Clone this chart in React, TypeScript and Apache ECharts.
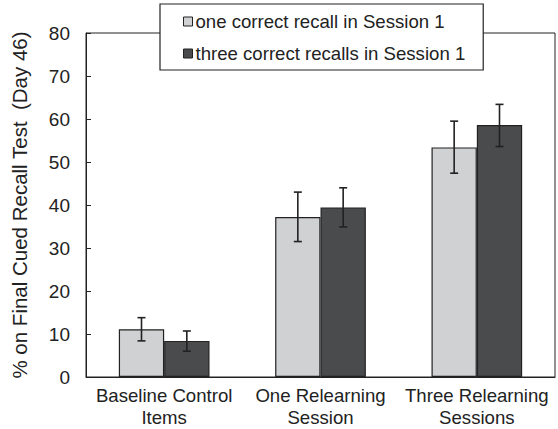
import React, { useEffect, useRef } from "react";
import * as echarts from "echarts";

const categories = ["Baseline Control\nItems", "One Relearning\nSession", "Three Relearning\nSessions"];
const seriesNames = ["one correct recall in Session 1", "three correct recalls in Session 1"];
const oneRecall = [11.1, 37.2, 53.4];
const threeRecalls = [8.4, 39.4, 58.6];
const oneRecallLow = [8.4, 31.5, 47.4];
const oneRecallHigh = [13.8, 43.0, 59.5];
const threeRecallsLow = [6.0, 34.9, 53.6];
const threeRecallsHigh = [10.7, 44.0, 63.4];
const yTicks = { min: 0, max: 80, interval: 10 };

const FONT = "'Liberation Sans', Arial, sans-serif";
const LIGHT = "#d0d1d3";
const DARK = "#4a4b4d";
const INK = "#222222";
const CATEGORY_GAP = 0.42;

// Error bar for one series; side = -1 for the left bar of a group, +1 for the right.
function errorSeries(low: number[], high: number[], side: number) {
  return {
    type: "custom",
    silent: true,
    z: 10,
    data: low.map((l, i) => [i, l, high[i]]),
    renderItem: (params: any, api: any) => {
      const band = api.size([1, 0])[0];
      const barW = (band * (1 - CATEGORY_GAP)) / 2;
      const lowPt = api.coord([api.value(0), api.value(1)]);
      const highPt = api.coord([api.value(0), api.value(2)]);
      const x = lowPt[0] + (side * barW) / 2;
      const cap = 4;
      const style = { stroke: INK, lineWidth: 1.6 };
      return {
        type: "group",
        children: [
          { type: "line", shape: { x1: x, y1: lowPt[1], x2: x, y2: highPt[1] }, style },
          { type: "line", shape: { x1: x - cap, y1: highPt[1], x2: x + cap, y2: highPt[1] }, style },
          { type: "line", shape: { x1: x - cap, y1: lowPt[1], x2: x + cap, y2: lowPt[1] }, style },
        ],
      };
    },
  };
}

export default function App() {
  const ref = useRef<HTMLDivElement>(null);

  useEffect(() => {
    if (!ref.current) return;
    const chart = echarts.init(ref.current, null, { renderer: "svg" });
    chart.setOption({
      animation: false,
      backgroundColor: "#ffffff",
      textStyle: { fontFamily: FONT },
      grid: {
        left: 86,
        right: 3,
        top: 33,
        bottom: 52,
        show: true,
        borderColor: INK,
        borderWidth: 1,
        backgroundColor: "transparent",
      },
      legend: {
        orient: "vertical",
        left: 160,
        top: 4,
        padding: [8, 18, 7, 23],
        itemGap: 13,
        itemWidth: 9,
        itemHeight: 9,
        itemStyle: { borderColor: INK, borderWidth: 1 },
        icon: "rect",
        backgroundColor: "#ffffff",
        borderColor: INK,
        borderWidth: 1.2,
        textStyle: { fontFamily: FONT, fontSize: 18.6, color: INK, padding: [0, 0, 0, -2] },
        data: seriesNames,
        z: 20,
      },
      xAxis: {
        type: "category",
        data: categories,
        axisLine: { show: true, lineStyle: { color: INK, width: 1 } },
        axisTick: { show: false },
        axisLabel: {
          color: INK,
          fontSize: 18.6,
          fontFamily: FONT,
          lineHeight: 22,
          margin: 7,
          interval: 0,
        },
      },
      yAxis: {
        type: "value",
        min: yTicks.min,
        max: yTicks.max,
        interval: yTicks.interval,
        name: "% on Final Cued Recall Test  (Day 46)",
        nameLocation: "middle",
        nameGap: 56,
        nameTextStyle: { color: INK, fontSize: 20.5, fontFamily: FONT },
        axisLine: { show: true, lineStyle: { color: INK, width: 1 } },
        axisTick: { show: true, inside: true, length: 5, lineStyle: { color: INK } },
        splitLine: { show: false },
        axisLabel: { color: INK, fontSize: 19, fontFamily: FONT, margin: 16 },
      },
      series: [
        {
          name: seriesNames[0],
          type: "bar",
          data: oneRecall,
          barGap: "0%",
          barCategoryGap: CATEGORY_GAP * 100 + "%",
          itemStyle: { color: LIGHT, borderColor: INK, borderWidth: 1.2 },
        },
        {
          name: seriesNames[1],
          type: "bar",
          data: threeRecalls,
          barGap: "0%",
          barCategoryGap: CATEGORY_GAP * 100 + "%",
          itemStyle: { color: DARK, borderColor: INK, borderWidth: 1.2 },
        },
        errorSeries(oneRecallLow, oneRecallHigh, -1),
        errorSeries(threeRecallsLow, threeRecallsHigh, 1),
      ],
    });
    return () => chart.dispose();
  }, []);

  return <div ref={ref} style={{ width: 558, height: 429, position: "absolute", left: 0, top: 0 }} />;
}
